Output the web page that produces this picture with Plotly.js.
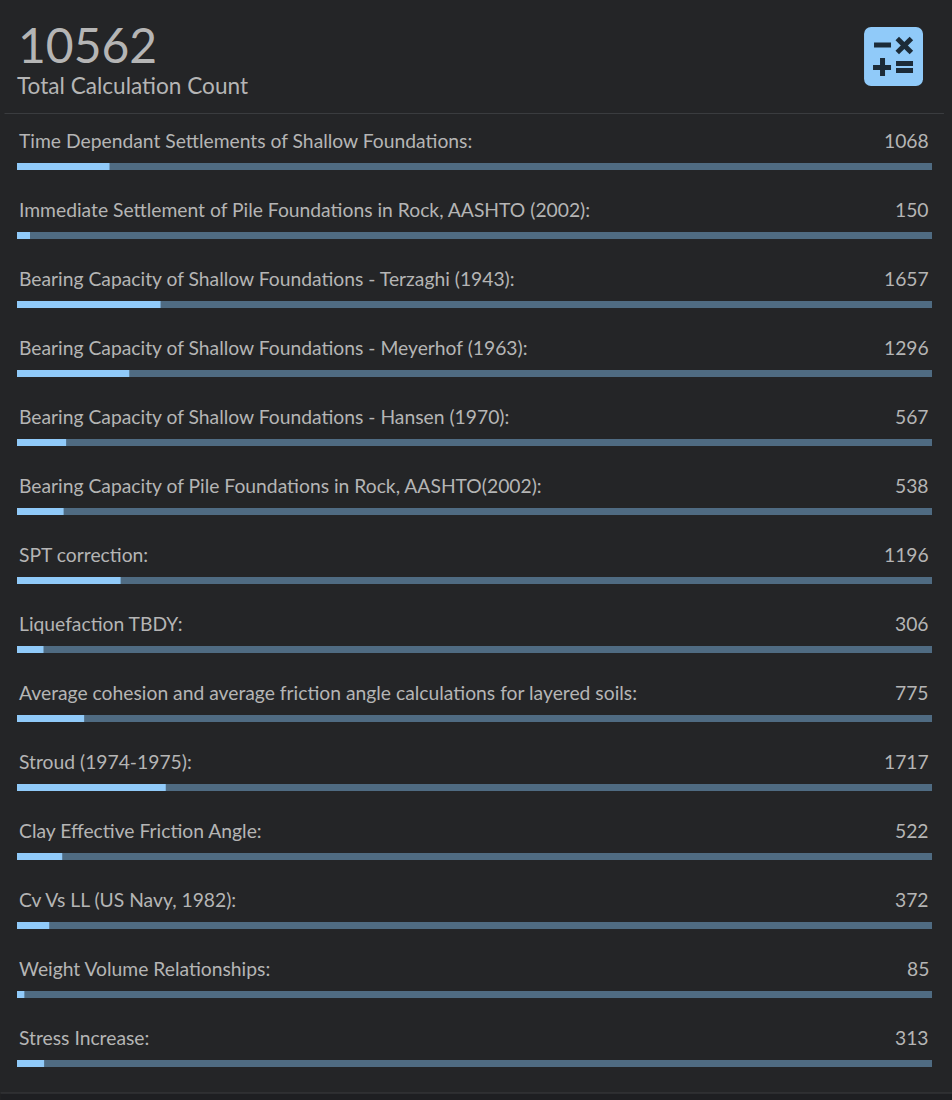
<!DOCTYPE html>
<html>
<head>
<meta charset="utf-8">
<script src="https://cdn.plot.ly/plotly-3.0.1.min.js"></script>
<style>
html, body { margin: 0; padding: 0; background: #242527; overflow: hidden; }
</style>
</head>
<body>
<div id="tester" style="width:952px;height:1100px;"></div>
<script>
var labels = [
    'Time Dependant Settlements of Shallow Foundations:',
    'Immediate Settlement of Pile Foundations in Rock, AASHTO (2002):',
    'Bearing Capacity of Shallow Foundations - Terzaghi (1943):',
    'Bearing Capacity of Shallow Foundations - Meyerhof (1963):',
    'Bearing Capacity of Shallow Foundations - Hansen (1970):',
    'Bearing Capacity of Pile Foundations in Rock, AASHTO(2002):',
    'SPT correction:',
    'Liquefaction TBDY:',
    'Average cohesion and average friction angle calculations for layered soils:',
    'Stroud (1974-1975):',
    'Clay Effective Friction Angle:',
    'Cv Vs LL (US Navy, 1982):',
    'Weight Volume Relationships:',
    'Stress Increase:'
];
var counts = [1068, 150, 1657, 1296, 567, 538, 1196, 306, 775, 1717, 522, 372, 85, 313];
var total = 10562;

var textColor = '#b5b5b5';
var rowPitch = 69, firstRowY = 166.5;
var rows = labels.map(function (l, i) { return i; });

var track = {
    type: 'bar', orientation: 'h',
    x: rows.map(function () { return total; }),
    y: rows,
    width: 7 / rowPitch,
    marker: { color: '#4f6b82', line: { width: 0 } },
    hoverinfo: 'skip'
};
var fill = {
    type: 'bar', orientation: 'h',
    x: counts,
    y: rows,
    width: 7 / rowPitch,
    marker: { color: '#90caf9', line: { width: 0 } },
    hoverinfo: 'x'
};

var annotations = [];
rows.forEach(function (i) {
    annotations.push({
        xref: 'paper', yref: 'y', x: 0.5 / 915.5, y: i - 26.5 / rowPitch,
        text: labels[i], showarrow: false, xanchor: 'left', yanchor: 'middle',
        font: { family: 'Lato', size: 19.3, color: textColor }
    });
    annotations.push({
        xref: 'paper', yref: 'y', x: (931 - 16.5) / 915.5, y: i - 26.5 / rowPitch,
        text: String(counts[i]), showarrow: false, xanchor: 'right', yanchor: 'middle',
        font: { family: 'Lato', size: 19.3, color: textColor }
    });
});
annotations.push({
    xref: 'paper', yref: 'paper', x: -1 / 915.5, y: 1 - 45 / 1100,
    text: String(total), showarrow: false, xanchor: 'left', yanchor: 'middle',
    font: { family: 'Lato', size: 48, color: textColor }
});
annotations.push({
    xref: 'paper', yref: 'paper', x: -2.5 / 915.5, y: 1 - 86 / 1100,
    text: 'Total Calculation Count', showarrow: false, xanchor: 'left', yanchor: 'middle',
    font: { family: 'Lato', size: 22.6, color: textColor }
});

var icon = '<svg xmlns="http://www.w3.org/2000/svg" width="59" height="59" viewBox="0 0 59 59">' +
    '<rect width="59" height="59" rx="7" fill="#90caf9"/>' +
    '<g fill="#1c2b38"><rect x="10" y="15.5" width="17" height="5"/>' +
    '<g transform="translate(40.3,18.5) rotate(45)"><rect x="-10" y="-2.5" width="20" height="5"/><rect x="-2.5" y="-10" width="5" height="20"/></g>' +
    '<rect x="9" y="38" width="18" height="5"/><rect x="16" y="31" width="5" height="18"/>' +
    '<rect x="32" y="34" width="17" height="5"/><rect x="32" y="41" width="17" height="5"/></g></svg>';

var layout = {
    width: 952, height: 1100,
    margin: { l: 16.5, r: 20, t: 0, b: 0, pad: 0 },
    paper_bgcolor: '#242527',
    plot_bgcolor: '#242527',
    barmode: 'overlay',
    showlegend: false,
    xaxis: { range: [0, total], visible: false, fixedrange: true },
    yaxis: {
        range: [(1100 - firstRowY) / rowPitch, -firstRowY / rowPitch],
        visible: false, fixedrange: true
    },
    annotations: annotations,
    images: [{
        source: 'data:image/svg+xml;utf8,' + encodeURIComponent(icon),
        xref: 'paper', yref: 'paper', xanchor: 'left', yanchor: 'top',
        x: (864 - 16.5) / 915.5, y: 1 - 27 / 1100,
        sizex: 59 / 915.5, sizey: 59 / 1100, sizing: 'stretch', layer: 'above'
    }],
    shapes: [
        { type: 'line', xref: 'paper', yref: 'paper', x0: -12.5 / 915.5, x1: (944 - 16.5) / 915.5,
          y0: 1 - 113.5 / 1100, y1: 1 - 113.5 / 1100, line: { color: '#3a3c3f', width: 1 } },
        { type: 'rect', xref: 'paper', yref: 'paper', x0: -16.5 / 915.5, x1: 935.5 / 915.5,
          y0: 0, y1: 7 / 1100, line: { width: 0 }, fillcolor: '#1e1f22' },
        { type: 'line', xref: 'paper', yref: 'paper', x0: -16.5 / 915.5, x1: 935.5 / 915.5,
          y0: 7 / 1100, y1: 7 / 1100, line: { color: '#3a3c3f', width: 1 } }
    ]
};

Plotly.newPlot('tester', [track, fill], layout, { displayModeBar: false, staticPlot: true });
</script>
</body>
</html>
